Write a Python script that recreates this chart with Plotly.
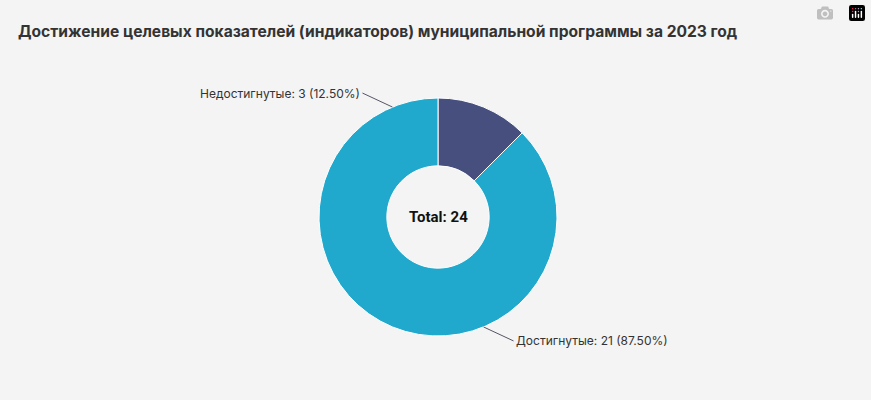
import math
import plotly.graph_objects as go

labels = ["Недостигнутые", "Достигнутые"]
values = [3, 21]
colors = ["#464f7d", "#20a9cd"]

W, H = 871, 400
cx, cy, r = 438, 217, 119

total = sum(values)
fig = go.Figure(go.Pie(
    labels=labels, values=values, hole=0.43, sort=False,
    direction="clockwise", rotation=0,
    marker=dict(colors=colors, line=dict(color="white", width=1)),
    textinfo="none", hoverinfo="label+value+percent", showlegend=False,
    domain=dict(x=[(cx - r) / W, (cx + r) / W], y=[(H - cy - r) / H, (H - cy + r) / H]),
))

# outside labels with leader lines
offsets = [(-30, -14), (30, 14)]
start = 90.0
for lab, v, (ox, oy) in zip(labels, values, offsets):
    span = 360.0 * v / total
    mid = math.radians(start + span / 2)
    start += span
    px = cx + r * math.cos(mid)
    py = cy - r * math.sin(mid)
    fig.add_annotation(
        x=px / W, y=1 - py / H, xref="paper", yref="paper",
        ax=ox, ay=oy, text=f"{lab}: {v} ({v / total * 100:.2f}%)",
        showarrow=True, arrowhead=0, arrowwidth=1, arrowcolor="#556",
        xanchor="right" if ox < 0 else "left",
        font=dict(size=12, color="#333", family="Inter"),
    )

fig.add_annotation(x=cx / W, y=1 - cy / H, xref="paper", yref="paper",
                   text=f"<b>Total: {total}</b>", showarrow=False,
                   font=dict(size=15, color="#111", family="Roboto"))

fig.update_layout(
    width=W, height=H,
    margin=dict(l=0, r=0, t=0, b=0),
    paper_bgcolor="#f4f4f4", plot_bgcolor="#f4f4f4",
    title=dict(text="<b>Достижение целевых показателей (индикаторов) муниципальной программы за 2023 год</b>",
               x=18 / W, xanchor="left", y=1 - 32 / H, yanchor="middle",
               font=dict(size=15.6, color="#333", family="Inter")),
)

fig.write_html("out.html",
               post_script="document.body.style.margin='0';document.body.style.background='#f4f4f4';")
